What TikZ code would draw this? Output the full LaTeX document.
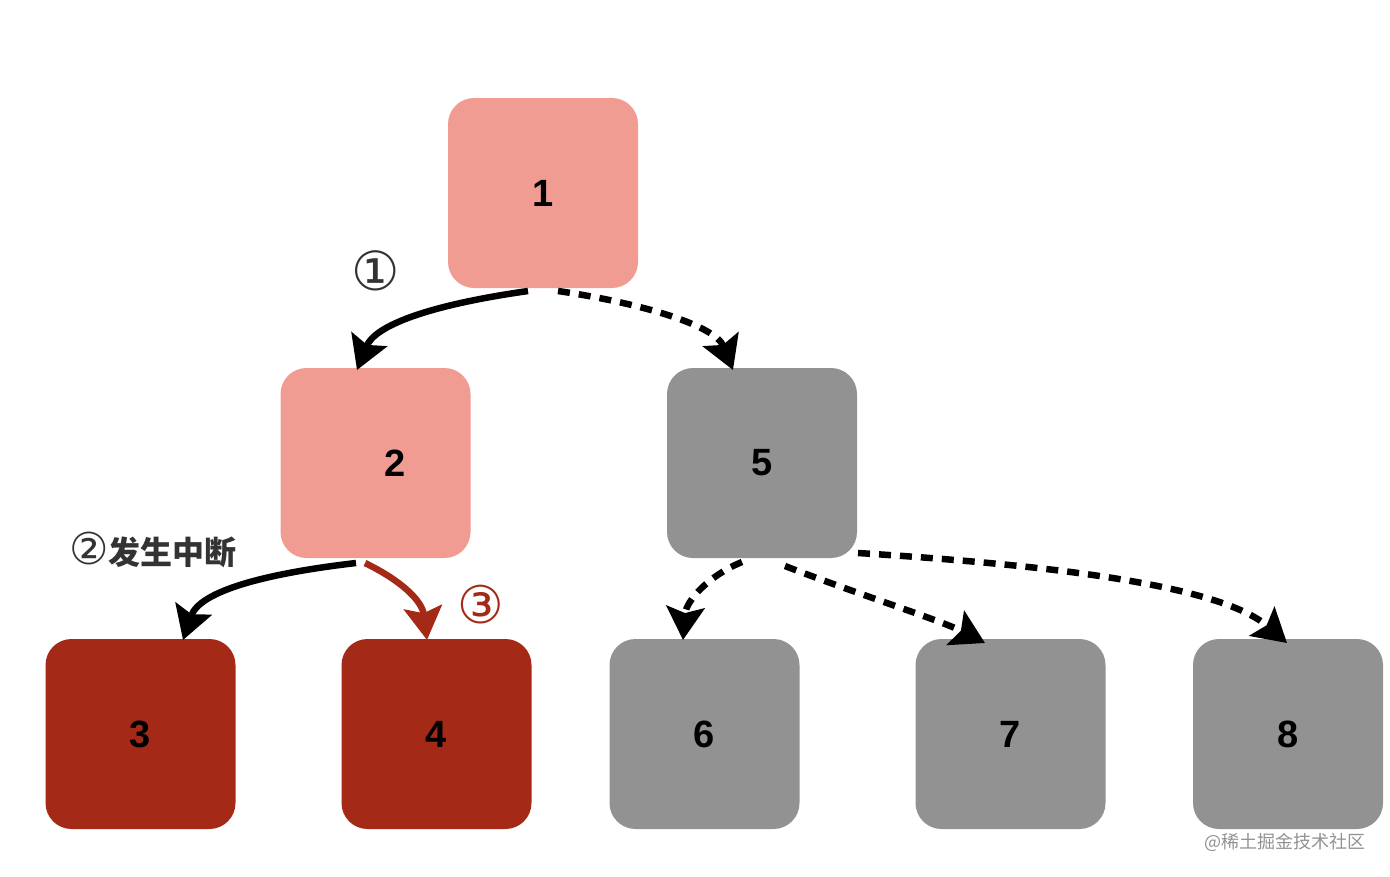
\documentclass[tikz,border=0pt]{standalone}
\usepackage{fontspec}
\setmainfont{Liberation Sans}
\newfontfamily\cjk{Noto Sans CJK SC}
\newfontfamily\dejavu{DejaVu Sans}
\usetikzlibrary{arrows.meta}
\definecolor{pinkfill}{HTML}{F09C92}
\definecolor{darkred}{HTML}{A42A17}
\definecolor{grayfill}{HTML}{929292}
\definecolor{labelgray}{HTML}{333333}
\begin{document}
\begin{tikzpicture}[x=1pt,y=-1pt,
  box/.style={minimum width=190pt,minimum height=190pt,rounded corners=26pt,inner sep=0pt,font=\fontsize{38}{40}\selectfont\bfseries,text=black},
  pinkbox/.style={box,fill=pinkfill},
  redbox/.style={box,fill=darkred},
  graybox/.style={box,fill=grayfill},
  tip/.style={-{Stealth[length=33pt,width=38pt,inset=6pt]}},
  conn/.style={line width=6.5pt,tip},
  dconn/.style={conn,dash pattern=on 12pt off 9pt}]
\useasboundingbox (0,0) rectangle (1390,876);
\node[pinkbox] (n1) at (543,193) {1};
\node[pinkbox,text width=190pt,align=center] (n2) at (375.5,463) {\hspace*{40pt}2};
\node[graybox] (n5) at (762,463) {5};
\node[redbox] (n3) at (140.5,734) {3};
\node[redbox] (n4) at (436.5,734) {4};
\node[graybox] (n6) at (704.5,734) {6};
\node[graybox] (n7) at (1010.5,734) {7};
\node[graybox] (n8) at (1288,734) {8};
\coordinate (s12) at (528,291);
\coordinate (e12) at (357,370);
\coordinate (s15) at (558,291);
\coordinate (e15) at (733,370);
\coordinate (s23) at (356,563);
\coordinate (e23) at (183,640);
\coordinate (s24) at (365,563);
\coordinate (e24) at (427,640);
\coordinate (s56) at (742,562);
\coordinate (e56) at (683,640);
\coordinate (s57) at (785,566);
\coordinate (e57) at (985,643);
\coordinate (s58) at (858,553);
\coordinate (e58) at (1287,643);
\draw[conn] (s12) .. controls (430,305) and (375,325) .. (e12);
\draw[dconn] (s15) .. controls (640,303) and (715,325) .. (e15);
\draw[conn] (s23) .. controls (270,573) and (200,590) .. (e23);
\draw[conn,draw=darkred] (s24) .. controls (400,580) and (422,600) .. (e24);
\draw[dconn] (s56) .. controls (710,575) and (686,600) .. (e56);
\draw[dconn] (s57) .. controls (860,595) and (940,620) .. (e57);
\draw[dconn] (s58) .. controls (1050,565) and (1220,585) .. (e58);
\node[font=\dejavu\fontsize{54}{56}\selectfont,text=labelgray] (c1) at (376,271) {①};
\node[font=\fontsize{32}{34}\selectfont,text=labelgray,anchor=west,inner sep=0pt] (c2) at (69,550) {{\dejavu\fontsize{44}{46}\selectfont ②}{\cjk\bfseries 发生中断}};
\node[font=\dejavu\fontsize{52}{54}\selectfont,text=darkred] (c3) at (481,605) {③};
\node[font=\cjk\fontsize{18}{20}\selectfont,text=grayfill,anchor=west,inner sep=0pt] (wm) at (1204,842) {@稀土掘金技术社区};
\end{tikzpicture}
\end{document}
